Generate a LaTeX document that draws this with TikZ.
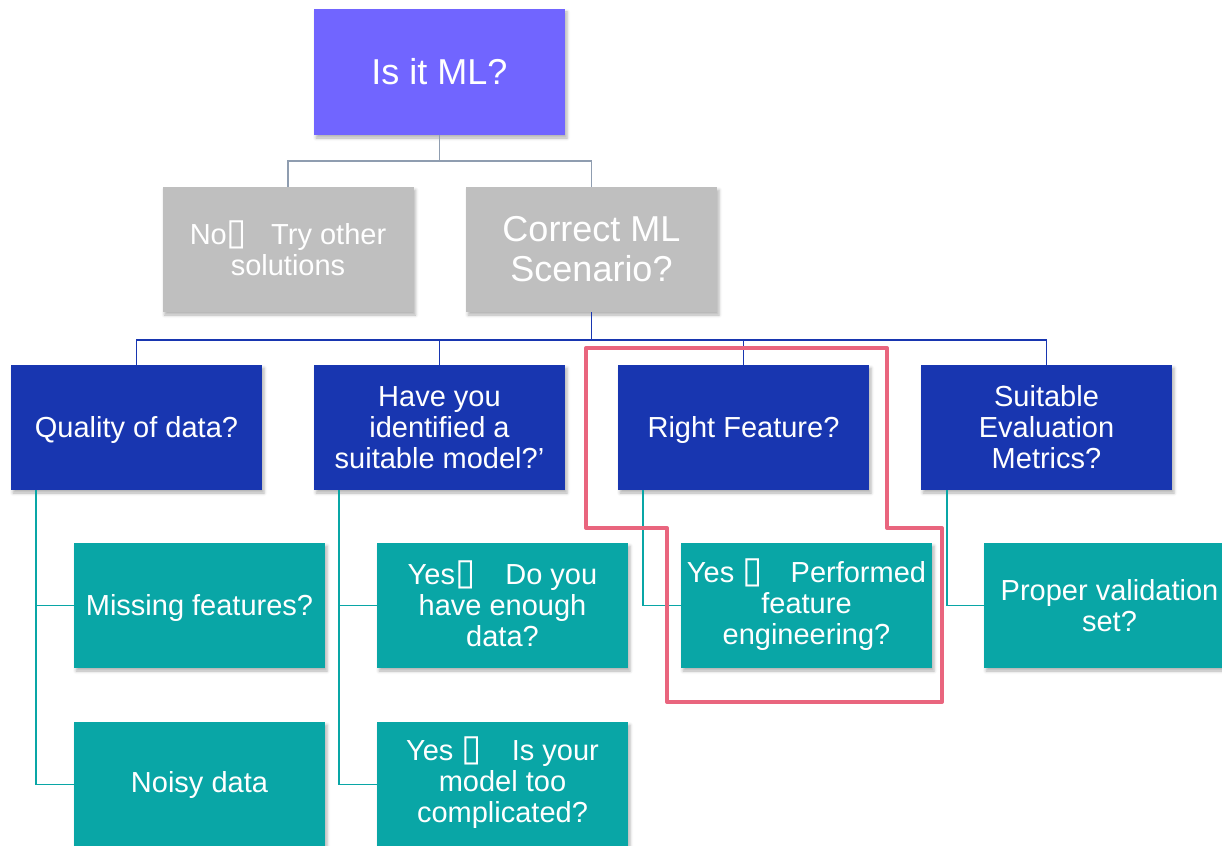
\documentclass[tikz,border=0pt]{standalone}
\usepackage{fontspec}
\setmainfont{Liberation Sans}
\newfontfamily\symfont{DejaVu Sans}
\usetikzlibrary{shadows,shadows.blur}
\definecolor{cpurple}{RGB}{113,101,255}
\definecolor{cgray}{RGB}{191,191,191}
\definecolor{cblue}{RGB}{24,54,176}
\definecolor{cteal}{RGB}{9,166,166}
\definecolor{cline}{RGB}{143,157,176}
\definecolor{cred}{RGB}{233,101,126}
\newcommand{\tofu}{\smash{\symfont\fontsize{37}{31}\selectfont ▯}}
\newcommand{\tstrut}{\rule[-6pt]{0pt}{33pt}}
\tikzset{
  box/.style={rectangle, minimum width=251pt, minimum height=125pt, inner sep=0pt,
    text=white, align=center, font=\fontsize{29}{31}\selectfont,
    blur shadow={shadow xshift=2pt, shadow yshift=-3pt, shadow blur radius=3pt, shadow opacity=30}},
  oneline/.style={execute at end node={\tstrut}},
  bigtext/.style={font=\fontsize{36}{40}\selectfont},
  topbox/.style={box, fill=cpurple, minimum height=126pt, bigtext},
  graybox/.style={box, fill=cgray},
  bluebox/.style={box, fill=cblue},
  tealbox/.style={box, fill=cteal},
  grayline/.style={draw=cline, line width=1.5pt},
  blueline/.style={draw=cblue, line width=1.5pt},
  tealline/.style={draw=cteal, line width=1.5pt},
  redline/.style={draw=cred, line width=4pt, line join=round},
}
\begin{document}
\begin{tikzpicture}[x=1pt,y=-1pt]
\useasboundingbox (0,0) rectangle (1222,845);
\clip (0,0) rectangle (1222,845);
% nodes
\node[topbox] (ml) at (439.5,72) {Is it ML?};
\node[graybox] (no) at (288,249.5) {No\tofu\hspace{24pt}Try other\\solutions};
\node[graybox, bigtext] (cor) at (591.5,249.5) {Correct ML\\Scenario?};
\node[bluebox, oneline] (q) at (136.5,427.5) {Quality of data?};
\node[bluebox] (model) at (439.5,427.5) {Have you\\identified a\\suitable model?’};
\node[bluebox, oneline] (feat) at (743.5,427.5) {Right Feature?};
\node[bluebox] (eval) at (1046.5,427.5) {Suitable\\Evaluation\\Metrics?};
\node[tealbox, oneline] (miss) at (199.5,605.5) {Missing features?};
\node[tealbox] (noisy) at (199.5,784.5) {Noisy data};
\node[tealbox] (enough) at (502.5,605.5) {Yes\tofu\hspace{30pt}Do you\\have enough\\data?};
\node[tealbox] (compl) at (502.5,784.5) {Yes \tofu\hspace{30pt}Is your\\model too\\complicated?};
\node[tealbox] (perf) at (806.5,605.5) {Yes \tofu\hspace{28pt}Performed\\feature\\engineering?};
\node[tealbox] (valid) at (1109.5,605.5) {Proper validation\\set?};
% connectors
\draw[grayline] (ml.south) -- ++(0,26) -| (no.north);
\draw[grayline] (ml.south) -- ++(0,26) -| (cor.north);
\foreach \t in {q,model,feat,eval}{
  \draw[blueline] (cor.south) -- ++(0,28) -| (\t.north);
}
\draw[tealline] ([xshift=25pt]q.south west) |- (miss.west);
\draw[tealline] ([xshift=25pt]q.south west) |- (noisy.west);
\draw[tealline] ([xshift=25pt]model.south west) |- (enough.west);
\draw[tealline] ([xshift=25pt]model.south west) |- (compl.west);
\draw[tealline] ([xshift=25pt]feat.south west) |- (perf.west);
\draw[tealline] ([xshift=26pt]eval.south west) |- (valid.west);
% highlight outline
\draw[redline] (586,348) -- (887,348) -- (887,528) -- (942,528) -- (942,702)
  -- (667,702) -- (667,528) -- (586,528) -- cycle;
\end{tikzpicture}
\end{document}
